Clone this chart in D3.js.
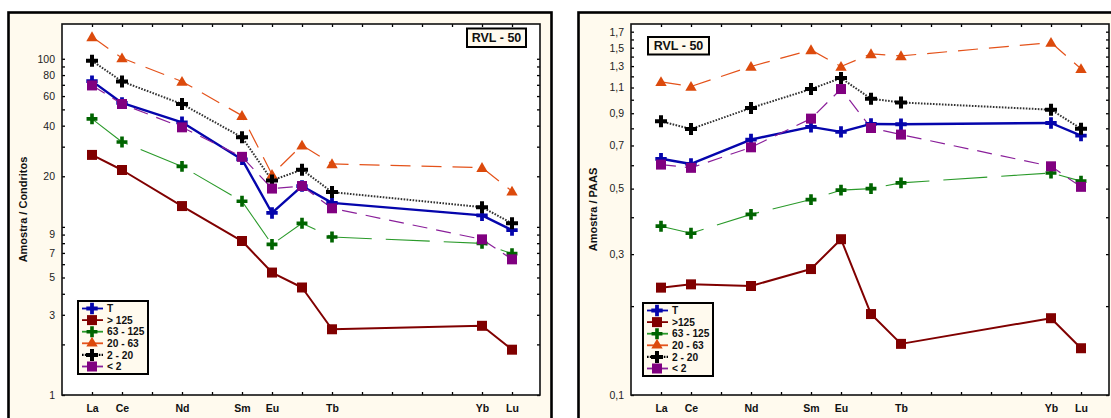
<!DOCTYPE html>
<html>
<head>
<meta charset="utf-8">
<script src="https://cdn.jsdelivr.net/npm/d3@7"></script>
<style>
  html, body { margin: 0; padding: 0; background: #ffffff; }
  svg { display: block; font-family: "Liberation Sans", Arial, sans-serif; }
</style>
</head>
<body>
<svg id="chart" width="1111" height="418"></svg>
<script>
// Rare-earth element positions along the x axis (atomic order La..Lu)
const elements = ["La","Ce","Pr","Nd","Pm","Sm","Eu","Gd","Tb","Dy","Ho","Er","Tm","Yb","Lu"];
const labelledElements = ["La","Ce","Nd","Sm","Eu","Tb","Yb","Lu"];
const measuredElements = ["La","Ce","Nd","Sm","Eu","Gd","Tb","Yb","Lu"];

// Sample RVL-50, chondrite-normalised, by grain-size fraction (µm)
const chondT     = [73.6, 54.6, 41.9, 25.2, 12.1, 17.5, 13.9, 11.7, 9.57];
const chondGt125 = [26.8, 21.8, 13.3, 8.24, 5.35, 4.36, 2.46, 2.58, 1.86];
const chond63    = [43.9, 32.0, 22.9, 14.2, 7.87, 10.5, 8.70, 7.98, 6.93];
const chond20    = [135, 101, 73.3, 45.9, 20.5, 30.6, 23.7, 22.5, 16.3];
const chond2     = [97.3, 73.3, 53.8, 34.1, 18.9, 21.9, 16.1, 13.1, 10.5];
const chondLt2   = [69.4, 53.8, 39.1, 26.1, 16.9, 17.5, 12.9, 8.43, 6.41];

// Same sample, PAAS-normalised
const paasT      = [0.631, 0.606, 0.733, 0.809, 0.778, 0.828, 0.826, 0.834, 0.756];
const paasGt125  = [0.231, 0.237, 0.234, 0.267, 0.337, 0.188, 0.149, 0.182, 0.144];
const paas63     = [0.373, 0.353, 0.409, 0.459, 0.494, 0.500, 0.523, 0.565, 0.530];
const paas20     = [1.150, 1.109, 1.296, 1.475, 1.296, 1.430, 1.408, 1.562, 1.273];
const paas2      = [0.845, 0.796, 0.938, 1.087, 1.184, 1.008, 0.979, 0.925, 0.798];
const paasLt2    = [0.603, 0.588, 0.690, 0.863, 1.087, 0.802, 0.762, 0.595, 0.507];

// Legend names
const namesChond = ["T", "> 125", "63 - 125", "20 - 63", "2 - 20", "< 2"];
const namesPaas  = ["T", ">125", "63 - 125", "20 - 63", "2 - 20", "< 2"];

// Y axis ticks and labels
const chondTicks  = [1,2,3,4,5,6,7,8,9,10,20,30,40,50,60,70,80,90,100];
const chondLabels = [1,3,5,7,9,20,40,60,80,100];
const paasTicks   = d3.range(1, 18).map(i => i / 10);
const paasLabels  = [0.1,0.3,0.5,0.7,0.9,1.1,1.3,1.5,1.7];

const title = "RVL - 50";

// Visual style of each fraction
const styles = [
  { color: "#0505ac", marker: "#0505ac", width: 2.4, dash: null,      symbol: d3.symbolCross,    size: 72 },
  { color: "#800000", marker: "#800000", width: 2.0, dash: null,      symbol: d3.symbolSquare,   size: 100 },
  { color: "#2a9a2a", marker: "#006400", width: 1.1, dash: "44,14",   symbol: d3.symbolCross,    size: 66 },
  { color: "#e4521a", marker: "#dc4a0c", width: 1.2, dash: "20,11",   symbol: d3.symbolTriangle, size: 56 },
  { color: "#333333", marker: "#000000", width: 2.0, dash: "1.6,1.4", symbol: d3.symbolCross,    size: 80 },
  { color: "#8a1f9a", marker: "#800080", width: 1.2, dash: "15,9",    symbol: d3.symbolSquare,   size: 100 }
];

const svg = d3.select("#chart");
const cream = "#fffaee";

function drawPanel(p) {
  // outer panel frame
  svg.append("rect")
    .attr("x", p.frame[0]).attr("y", p.frame[1])
    .attr("width", p.frame[2]).attr("height", p.frame[3])
    .attr("fill", cream).attr("stroke", "#000").attr("stroke-width", 2.6);

  const g = svg.append("g").attr("transform", `translate(${p.left},${p.top})`);
  const w = p.width, h = p.height;

  g.append("rect").attr("width", w).attr("height", h).attr("fill", "#ffffff");

  const x = d3.scaleLinear().domain([-1, 14.933]).range([0, w]);
  const y = d3.scaleLog().domain(p.yDomain).range([h, 0]);
  const idx = name => elements.indexOf(name);

  const isLabel = d => p.yLabels.some(v => Math.abs(v - d) < 1e-9);

  // left axis with labels
  const yAxisL = d3.axisLeft(y).tickValues(p.yTicks).tickSize(-3).tickPadding(7)
    .tickFormat(d => isLabel(d) ? p.fmt(d) : "");
  const gl = g.append("g").call(yAxisL);
  // right axis, ticks only
  const gr = g.append("g").attr("transform", `translate(${w},0)`)
    .call(d3.axisRight(y).tickValues(p.yTicks).tickSize(-3).tickFormat(""));
  // bottom axis with element labels
  const xAxisB = d3.axisBottom(x).tickValues(d3.range(elements.length)).tickSize(-3).tickPadding(10)
    .tickFormat(i => labelledElements.includes(elements[i]) ? elements[i] : "");
  const gb = g.append("g").attr("transform", `translate(0,${h})`).call(xAxisB);
  const gt = g.append("g")
    .call(d3.axisTop(x).tickValues(d3.range(elements.length)).tickSize(-3).tickFormat(""));

  [gl, gr, gb, gt].forEach(a => {
    a.select(".domain").remove();
    a.selectAll(".tick line").attr("stroke", "#000").attr("stroke-width", 1.3);
  });
  gl.selectAll(".tick text").attr("font-size", 10.5).attr("fill", "#222")
    .attr("font-family", "Liberation Sans, Arial, sans-serif");
  gb.selectAll(".tick text").attr("font-size", 10.5).attr("font-weight", "bold").attr("fill", "#111")
    .attr("font-family", "Liberation Sans, Arial, sans-serif");

  g.append("rect").attr("width", w).attr("height", h)
    .attr("fill", "none").attr("stroke", "#111").attr("stroke-width", 1.6);

  // axis title
  svg.append("text")
    .attr("transform", `translate(${p.titleX},${p.top + h / 2}) rotate(-90)`)
    .attr("text-anchor", "middle").attr("dominant-baseline", "middle")
    .attr("font-size", 11).attr("font-weight", "bold").attr("fill", "#111")
    .text(p.yTitle);

  // series
  const line = d3.line().x(d => x(idx(d.el))).y(d => y(d.v));
  p.series.forEach((vals, k) => {
    const st = styles[k];
    const pts = measuredElements.map((el, i) => ({ el, v: vals[i] }));
    g.append("path").datum(pts)
      .attr("d", line).attr("fill", "none")
      .attr("stroke", st.color).attr("stroke-width", st.width)
      .attr("stroke-dasharray", st.dash)
      .attr("stroke-linejoin", "round");
  });
  p.series.forEach((vals, k) => {
    const st = styles[k];
    const pts = measuredElements.map((el, i) => ({ el, v: vals[i] }));
    const sym = d3.symbol().type(st.symbol).size(st.size);
    g.append("g").selectAll("path").data(pts).join("path")
      .attr("transform", d => `translate(${x(idx(d.el))},${y(d.v) + (st.symbol === d3.symbolTriangle ? 1 : 0)})`)
      .attr("d", sym).attr("fill", st.marker);
  });

  // sample label box
  const tb = svg.append("g").attr("transform", `translate(${p.tag[0]},${p.tag[1]})`);
  tb.append("rect").attr("width", p.tag[2]).attr("height", p.tag[3])
    .attr("fill", cream).attr("stroke", "#000").attr("stroke-width", 2);
  tb.append("text").attr("x", p.tag[2] / 2).attr("y", p.tag[3] / 2 + 4.5)
    .attr("text-anchor", "middle").attr("font-size", 12.5).attr("font-weight", "bold")
    .attr("fill", "#111").text(title);

  // legend
  const lg = svg.append("g").attr("transform", `translate(${p.legend[0]},${p.legend[1]})`);
  lg.append("rect").attr("width", p.legend[2]).attr("height", p.legend[3])
    .attr("fill", cream).attr("stroke", "#000").attr("stroke-width", 2);
  p.names.forEach((name, k) => {
    const st = styles[k];
    const ry = 7.5 + k * 11.6;
    lg.append("line").attr("x1", 4).attr("x2", 25).attr("y1", ry).attr("y2", ry)
      .attr("stroke", k === 4 ? "#000" : st.color).attr("stroke-width", k === 4 ? 2.2 : 1.8)
      .attr("stroke-dasharray", k === 4 ? "1.6,1.2" : null);
    lg.append("path").attr("transform", `translate(14,${ry})`)
      .attr("d", d3.symbol().type(st.symbol).size(st.size)).attr("fill", st.marker);
    lg.append("text").attr("x", 29).attr("y", ry + 3.6)
      .attr("font-size", 10.2).attr("font-weight", "bold").attr("fill", "#111").text(name);
  });
}

drawPanel({
  frame: [8.5, 12.5, 543, 420],
  left: 62, top: 24, width: 478, height: 371,
  yDomain: [1, 161],
  yTicks: chondTicks, yLabels: chondLabels, fmt: d => String(d),
  yTitle: "Amostra / Condritos", titleX: 24,
  series: [chondT, chondGt125, chond63, chond20, chond2, chondLt2],
  names: namesChond,
  tag: [467, 28.5, 59, 18.5],
  legend: [78, 301, 70, 73]
});

drawPanel({
  frame: [578.5, 12.5, 545, 420],
  left: 631, top: 24, width: 478, height: 371,
  yDomain: [0.1, 1.805],
  yTicks: paasTicks, yLabels: paasLabels, fmt: d => d3.format(".1f")(d).replace(".", ","),
  yTitle: "Amostra / PAAS", titleX: 594,
  series: [paasT, paasGt125, paas63, paas20, paas2, paasLt2],
  names: namesPaas,
  tag: [648, 37, 61, 17.5],
  legend: [643, 303, 70, 73]
});
</script>
</body>
</html>
